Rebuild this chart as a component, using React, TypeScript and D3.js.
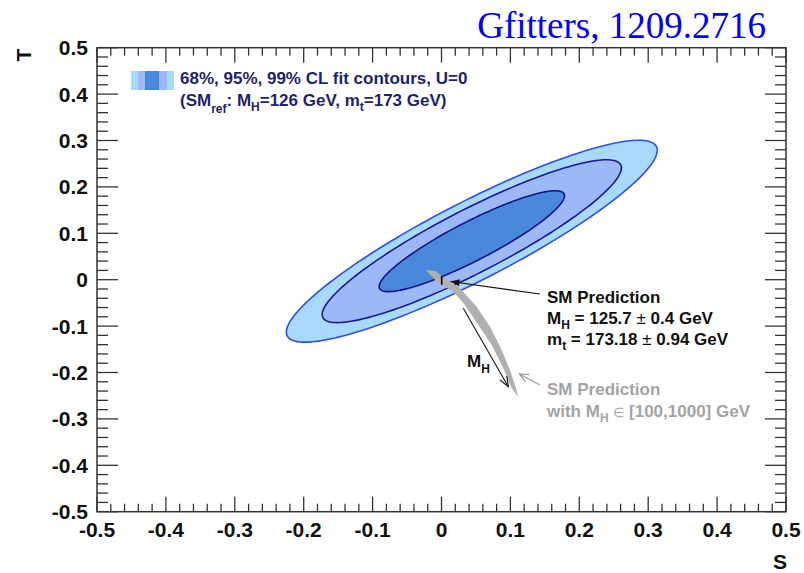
import React from 'react';
import * as d3 from 'd3';

// ---- data ----
const sTicks = [-0.5, -0.4, -0.3, -0.2, -0.1, 0, 0.1, 0.2, 0.3, 0.4, 0.5];
const tTicks = [-0.5, -0.4, -0.3, -0.2, -0.1, 0, 0.1, 0.2, 0.3, 0.4, 0.5];
const tickLabels = ['-0.5', '-0.4', '-0.3', '-0.2', '-0.1', '0', '0.1', '0.2', '0.3', '0.4', '0.5'];
const clNames = ['68%', '95%', '99%'];
const clChi2 = [2.3, 5.99, 9.21];
const fitCenter = [0.044, 0.083]; // S, T
const fitSigma = [0.0887, 0.0717]; // sigma_S, sigma_T
const fitRho = 0.9;
// SM prediction band (M_H in [100,1000] GeV), polygon in (S,T)
const bandS = [-0.0225, -0.0094, 0.0269, 0.0511, 0.0704, 0.0874, 0.0994, 0.1081, 0.1115, 0.1019, 0.0897, 0.0729, 0.0534, 0.0341, 0.0171, -0.0046];
const bandT = [0.021, 0.0187, -0.0185, -0.0582, -0.1013, -0.1515, -0.1946, -0.2341, -0.2522, -0.2341, -0.1909, -0.1407, -0.0976, -0.0545, -0.0259, -0.0078];
// SM prediction point
const smPoint = { S: 0.0003, T: -0.001, errT: 0.01 };
// annotation arrows (from, to) in (S,T)
const arrowSM = [[0.143, -0.0308], [0.0131, -0.0039]];
const arrowMH = [[0.0316, -0.0616], [0.097, -0.2306]];
const arrowBand = [[0.143, -0.2269], [0.1129, -0.2032]];

// ---- layout ----
const W = 804, H = 573;
const X0 = 97, X1 = 786, Y0 = 47.7, Y1 = 511.7;
const x = d3.scaleLinear().domain([-0.5, 0.5]).range([X0, X1]);
const y = d3.scaleLinear().domain([-0.5, 0.5]).range([Y1, Y0]);

const fillCols = ['#4a88dc', '#9cb8f7', '#a8d8fa'];
const strokeCols = ['#14148a', '#1a1a90', '#2d4fe6'];
const FONT = "'Liberation Sans', Arial, Helvetica, sans-serif";
const navy = '#1f1f6e';

function ellipsePath(chi2: number) {
  const k = Math.sqrt(chi2);
  const pts: [number, number][] = d3.range(0, 361, 2).map((deg) => {
    const th = (deg * Math.PI) / 180;
    const s = fitCenter[0] + k * fitSigma[0] * Math.cos(th);
    const t = fitCenter[1] + k * fitSigma[1] * (fitRho * Math.cos(th) + Math.sqrt(1 - fitRho * fitRho) * Math.sin(th));
    return [x(s), y(t)];
  });
  return d3.line().curve(d3.curveLinearClosed)(pts) as string;
}

function Arrow({ from, to, color, filled, len = 9, half = 3.5 }: any) {
  const x1 = x(from[0]), y1 = y(from[1]), x2 = x(to[0]), y2 = y(to[1]);
  const a = Math.atan2(y2 - y1, x2 - x1);
  const bx = x2 - len * Math.cos(a), by = y2 - len * Math.sin(a);
  const px = -Math.sin(a) * half, py = Math.cos(a) * half;
  return (
    <g>
      <line x1={x1} y1={y1} x2={x2} y2={y2} stroke={color} strokeWidth={1.2} />
      {filled ? (
        <polygon points={`${x2},${y2} ${bx + px},${by + py} ${bx - px},${by - py}`} fill={color} />
      ) : (
        <polyline points={`${bx + px},${by + py} ${x2},${y2} ${bx - px},${by - py}`} fill="none" stroke={color} strokeWidth={1.2} />
      )}
    </g>
  );
}

export default function App() {
  const minorS = d3.range(-0.5, 0.5001, 0.02);
  const minorT = d3.range(-0.5, 0.5001, 0.02);
  const bandPts: [number, number][] = bandS.map((s, i) => [x(s), y(bandT[i])]);
  const bandPath = d3.line().curve(d3.curveLinearClosed)(bandPts) as string;
  const legendW = [7, 7, 14, 8, 7];
  const legendC = [fillCols[2], fillCols[1], fillCols[0], fillCols[1], fillCols[2]];
  let lx = 131;
  return (
    <svg width={W} height={H} style={{ position: 'absolute', left: 0, top: 0, background: '#fff' }} fontFamily={FONT}>
      <rect x={0} y={0} width={W} height={H} fill="#fff" />
      {/* title */}
      <text x={766} y={38} textAnchor="end" fontFamily="'Liberation Serif', 'DejaVu Serif', serif" fontSize={37} fill="#0000ff">Gfitters, 1209.2716</text>

      {/* contours */}
      {[2, 1, 0].map((i) => (
        <path key={i} d={ellipsePath(clChi2[i])} fill={fillCols[i]} stroke={strokeCols[i]} strokeWidth={1.6} />
      ))}

      {/* SM band */}
      <path d={bandPath} fill="#b0b0b0" stroke="none" />
      <line x1={x(smPoint.S)} x2={x(smPoint.S)} y1={y(smPoint.T + smPoint.errT)} y2={y(smPoint.T - smPoint.errT)} stroke="#000" strokeWidth={1.6} />

      {/* arrows */}
      <Arrow from={arrowSM[0]} to={arrowSM[1]} color="#111" filled len={9} half={3.5} />
      <Arrow from={arrowMH[0]} to={arrowMH[1]} color="#222" filled={false} len={10} half={4} />
      <Arrow from={arrowBand[0]} to={arrowBand[1]} color="#999" filled={false} len={9} half={4} />

      {/* annotation text */}
      <g fontWeight="bold" fontSize={17} fill="#111">
        <text x={547} y={303}>SM Prediction</text>
        <text x={547} y={324}>M<tspan dy={5} fontSize={12}>H</tspan><tspan dy={-5}> = 125.7 </tspan><tspan fontWeight="normal">±</tspan><tspan> 0.4 GeV</tspan></text>
        <text x={547} y={345}>m<tspan dy={5} fontSize={12}>t</tspan><tspan dy={-5}> = 173.18 </tspan><tspan fontWeight="normal">±</tspan><tspan> 0.94 GeV</tspan></text>
        <text x={467} y={367}>M<tspan dy={6} fontSize={12}>H</tspan></text>
      </g>
      <g fontWeight="bold" fontSize={17} fill="#a3a3a3">
        <text x={547} y={395}>SM Prediction</text>
        <text x={547} y={417}>with M<tspan dy={5} fontSize={12}>H</tspan><tspan dy={-5}> </tspan><tspan fontWeight="normal" fontSize={13}>∈</tspan><tspan> [100,1000] GeV</tspan></text>
      </g>

      {/* legend */}
      {legendW.map((w, i) => {
        const r = <rect key={i} x={lx} y={71} width={w} height={19} fill={legendC[i]} />;
        lx += w;
        return r;
      })}
      <g fontWeight="bold" fontSize={17} fill={navy}>
        <text x={180} y={84}>{clNames.join(', ')} CL fit contours, U=0</text>
        <text x={180} y={106}>(SM<tspan dy={7} fontSize={12}>ref</tspan><tspan dy={-7}>: M</tspan><tspan dy={5} fontSize={12}>H</tspan><tspan dy={-5}>=126 GeV, m</tspan><tspan dy={5} fontSize={12}>t</tspan><tspan dy={-5}>=173 GeV)</tspan></text>
      </g>

      {/* frame and ticks */}
      <rect x={X0} y={Y0} width={X1 - X0} height={Y1 - Y0} fill="none" stroke="#333" strokeWidth={1.5} />
      <g stroke="#333" strokeWidth={1.3}>
        {minorS.map((v, i) => {
          const major = sTicks.some((m) => Math.abs(m - v) < 1e-6);
          const L = major ? 15 : 8;
          return (
            <g key={'s' + i}>
              <line x1={x(v)} x2={x(v)} y1={Y1} y2={Y1 - L} />
              <line x1={x(v)} x2={x(v)} y1={Y0} y2={Y0 + L} />
            </g>
          );
        })}
        {minorT.map((v, i) => {
          const major = tTicks.some((m) => Math.abs(m - v) < 1e-6);
          const L = major ? 21 : 11;
          return (
            <g key={'t' + i}>
              <line x1={X0} x2={X0 + L} y1={y(v)} y2={y(v)} />
              <line x1={X1} x2={X1 - L} y1={y(v)} y2={y(v)} />
            </g>
          );
        })}
      </g>
      <g fontWeight="bold" fontSize={21} fill="#111">
        {sTicks.map((v, i) => (
          <text key={'sl' + i} x={x(v)} y={537} textAnchor="middle">{tickLabels[i]}</text>
        ))}
        {tTicks.map((v, i) => (
          <text key={'tl' + i} x={88} y={y(v) + 7.5} textAnchor="end">{tickLabels[i]}</text>
        ))}
        <text x={787} y={569} textAnchor="end">S</text>
        <text transform={`translate(31,55) rotate(-90)`} textAnchor="middle">T</text>
      </g>
    </svg>
  );
}
